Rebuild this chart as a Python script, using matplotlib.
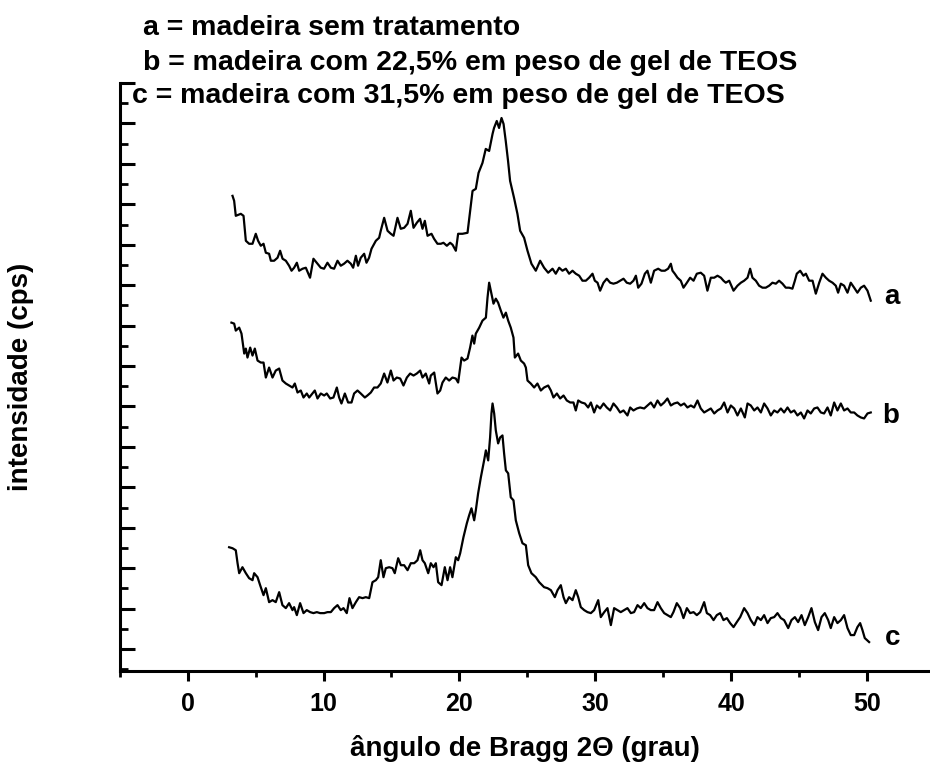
import matplotlib
matplotlib.use('Agg')
from matplotlib import pyplot as plt
from matplotlib.ticker import MultipleLocator

# difratogramas de raios X (2theta em graus, intensidade em cps, escala arbitraria)
ang_a = [3.31, 3.43, 3.55, 3.92, 4.12, 4.29, 4.53, 4.78, 5.02, 5.19,
         5.39, 5.59, 5.76, 6.00, 6.13, 6.37, 6.62, 6.81, 6.99, 7.23,
         7.47, 7.65, 7.84, 8.04, 8.21, 8.46, 8.70, 9.01, 9.26, 9.56,
         9.80, 10.04, 10.29, 10.54, 10.78, 11.03, 11.27, 11.51, 11.76, 12.01,
         12.18, 12.38, 12.54, 12.74, 12.99, 13.16, 13.35, 13.53, 13.85, 14.09,
         14.21, 14.46, 14.71, 14.95, 15.15, 15.44, 15.68, 15.93, 16.18, 16.42,
         16.62, 16.86, 17.10, 17.28, 17.45, 17.65, 17.94, 18.13, 18.38, 18.63,
         18.82, 19.07, 19.31, 19.49, 19.73, 19.90, 20.22, 20.59, 20.78, 20.96,
         21.20, 21.40, 21.69, 21.93, 22.18, 22.43, 22.54, 22.74, 22.91, 23.09,
         23.24, 23.40, 23.57, 23.72, 24.01, 24.26, 24.46, 24.75, 25.00, 25.29,
         25.61, 25.93,
         26.22, 26.52, 26.84, 27.08, 27.33, 27.57, 27.82, 28.06, 28.31, 28.55,
         28.80, 29.04, 29.29, 29.53, 29.78, 29.95, 30.15, 30.34, 30.59, 30.83,
         31.08, 31.32, 31.57, 31.81, 32.06, 32.30, 32.55, 32.79, 32.97, 33.14,
         33.38, 33.63, 33.82, 34.07, 34.31, 34.61, 34.85, 35.10, 35.34, 35.54,
         35.66, 35.83, 36.03, 36.27, 36.47, 36.72, 36.96, 37.21, 37.45, 37.74,
         37.99, 38.23, 38.48, 38.73, 38.97, 39.22, 39.41, 39.58, 39.83, 40.15,
         40.44, 40.69, 40.93, 41.18, 41.37, 41.54, 41.79, 42.03, 42.28, 42.52,
         42.77, 43.01, 43.26, 43.50, 43.75, 43.99, 44.24, 44.48, 44.66, 44.80,
         45.05, 45.29, 45.47, 45.71, 45.96, 46.20, 46.45, 46.69, 46.94, 47.18,
         47.43, 47.67, 47.84, 48.04, 48.28, 48.53, 48.77, 49.02, 49.26, 49.51,
         49.75, 50.00, 50.24]
cps_a = [454, 449, 434, 436, 434, 409, 406, 406, 416, 409,
         404, 406, 397, 396, 389, 389, 392, 399, 391, 389,
         384, 379, 382, 387, 379, 381, 382, 372, 391, 386,
         382, 381, 387, 382, 381, 389, 384, 386, 389, 386,
         382, 394, 384, 392, 396, 387, 392, 401, 409, 412,
         419, 432, 419, 416, 414, 432, 421, 422, 426, 439,
         422, 427, 431, 421, 429, 414, 416, 411, 406, 406,
         407, 404, 407, 405, 399, 416, 416, 417, 439, 459,
         461, 477, 487, 501, 499, 516, 522, 529, 522, 532,
         526, 509, 489, 469, 452, 436, 419, 412, 399, 386,
         379, 389,
         382, 377, 381, 376, 382, 379, 381, 376, 379, 376,
         374, 369, 369, 372, 376, 369, 367, 359, 367, 371,
         367, 366, 367, 369, 371, 367, 366, 369, 374, 362,
         366, 376, 379, 367, 379, 381, 379, 379, 381, 386,
         379, 376, 372, 369, 362, 367, 372, 369, 376, 377,
         374, 359, 372, 372, 374, 372, 369, 367, 369, 359,
         364, 367, 369, 372, 381, 372, 369, 364, 362, 362,
         364, 367, 366, 369, 366, 362, 362, 361, 369, 376,
         379, 374, 376, 369, 369, 356, 367, 376, 372, 369,
         367, 364, 357, 366, 364, 357, 367, 362, 357, 362,
         364, 359, 349]

ang_b = [3.23, 3.43, 3.55, 3.80, 3.97, 4.17, 4.29, 4.41, 4.61, 4.78,
         4.95, 5.15, 5.39, 5.59, 5.76, 6.00, 6.25, 6.49, 6.74, 6.98,
         7.23, 7.47, 7.72, 7.89, 8.09, 8.33, 8.53, 8.77, 8.95, 9.19,
         9.36, 9.56, 9.80, 10.05, 10.24, 10.49, 10.73, 10.98, 11.15, 11.32,
         11.57, 11.81, 12.06, 12.25, 12.50, 12.74, 13.04, 13.23, 13.48, 13.72,
         13.97, 14.21, 14.46, 14.70, 14.95, 15.15, 15.39, 15.64, 15.88, 16.13,
         16.37, 16.62, 16.86, 17.11, 17.28, 17.52, 17.77, 17.89, 18.14, 18.38,
         18.58, 18.75, 18.99, 19.24, 19.48, 19.73, 19.90, 20.05, 20.15, 20.34,
         20.59, 20.78, 20.95, 21.08, 21.20, 21.45, 21.69, 21.94, 22.06, 22.18,
         22.30, 22.50, 22.67, 22.84, 23.04, 23.23, 23.41, 23.58, 23.77, 23.97,
         24.07, 24.31, 24.51, 24.75, 24.88, 25.00, 25.24, 25.49, 25.73, 25.98,
         26.22, 26.52, 26.72, 26.91, 27.16, 27.40, 27.65, 27.89, 28.14, 28.38,
         28.55, 28.73, 28.97, 29.22, 29.46, 29.66, 29.90, 30.10, 30.34, 30.59,
         30.83, 31.08, 31.32, 31.57, 31.81, 32.06, 32.35, 32.55, 32.79, 33.04,
         33.28, 33.58, 33.82, 34.07, 34.31, 34.56, 34.80, 35.05, 35.29, 35.54,
         35.78, 36.03, 36.27, 36.52, 36.76, 37.01, 37.25, 37.50, 37.74, 37.99,
         38.23, 38.48, 38.73, 38.97, 39.22, 39.46, 39.71, 39.95, 40.20, 40.44,
         40.69, 40.98, 41.18, 41.42, 41.67, 41.91, 42.16, 42.40, 42.65, 42.89,
         43.14, 43.38, 43.63, 43.87, 44.12, 44.36, 44.61, 44.85, 45.10, 45.34,
         45.59, 45.83, 46.08, 46.32, 46.57, 46.81, 47.06, 47.30, 47.55, 47.79,
         48.04, 48.28, 48.53, 48.77, 49.02, 49.26, 49.51, 49.75, 50.00, 50.24]
cps_b = [327, 326, 319, 322, 316, 296, 301, 292, 302, 294,
         301, 289, 287, 287, 272, 282, 272, 279, 281, 269,
         266, 264, 262, 266, 257, 259, 252, 256, 252, 256,
         259, 251, 256, 254, 256, 251, 252, 262, 252, 246,
         256, 247, 247, 256, 259, 256, 252, 254, 257, 262,
         262, 266, 276, 267, 279, 269, 272, 271, 264, 272,
         276, 274, 276, 279, 272, 276, 266, 274, 277, 256,
         259, 267, 272, 269, 272, 271, 267, 282, 292, 289,
         291, 302, 314, 306, 316, 322, 329, 332, 352, 367,
         359, 346, 351, 347, 339, 332, 337, 329, 322, 312,
         292, 296, 289, 286, 282, 269, 266, 262, 266, 259,
         262, 264, 259, 252, 256, 251, 254, 249, 247, 247,
         239, 249, 247, 246, 242, 247, 237, 244, 241, 246,
         242, 239, 246, 242, 237, 239, 234, 242, 239, 241,
         242, 241, 244, 247, 242, 249, 244, 247, 251, 244,
         246, 247, 244, 246, 242, 244, 242, 249, 241, 237,
         239, 241, 236, 239, 241, 247, 237, 244, 241, 234,
         241, 232, 246, 244, 239, 242, 237, 246, 241, 234,
         239, 237, 241, 237, 242, 237, 239, 234, 237, 231,
         239, 236, 241, 242, 237, 236, 242, 234, 247, 239,
         246, 239, 241, 237, 237, 234, 232, 231, 236, 237]

ang_c = [3.06, 3.31, 3.55, 3.68, 3.80, 4.04, 4.29, 4.53, 4.78, 4.90,
         5.15, 5.34, 5.59, 5.76, 6.00, 6.25, 6.49, 6.74, 6.98, 7.23,
         7.47, 7.72, 7.84, 8.04, 8.28, 8.53, 8.77, 9.02, 9.26, 9.51,
         9.75, 10.05, 10.29, 10.54, 10.78, 11.03, 11.27, 11.47, 11.71, 11.91,
         12.13, 12.38, 12.62, 12.87, 13.11, 13.36, 13.60, 13.85, 14.02, 14.21,
         14.41, 14.58, 14.83, 15.07, 15.24, 15.49, 15.69, 15.93, 16.18, 16.42,
         16.67, 16.91, 17.11, 17.28, 17.45, 17.70, 17.89, 18.09, 18.26, 18.43,
         18.68, 18.92, 19.12, 19.31, 19.48, 19.73, 19.90, 20.05, 20.29, 20.54,
         20.71, 20.88, 21.08, 21.20, 21.37, 21.57, 21.81, 21.94, 22.11, 22.25,
         22.35, 22.43, 22.55, 22.67, 22.84, 22.99, 23.16, 23.28, 23.41, 23.58,
         23.77, 23.97, 24.14, 24.39, 24.63, 24.88, 25.05, 25.29, 25.61, 25.86,
         26.22, 26.47, 26.72, 27.01, 27.21, 27.45, 27.65, 27.82, 28.06, 28.31,
         28.55, 28.73, 28.92, 29.17, 29.41, 29.66, 29.90, 30.20, 30.39, 30.64,
         30.88, 31.13, 31.37, 31.62, 31.86, 32.11, 32.35, 32.60, 32.84, 33.09,
         33.33, 33.58, 33.82, 34.07, 34.31, 34.56, 34.80, 35.05, 35.29, 35.54,
         35.73, 35.98, 36.23, 36.47, 36.72, 36.96, 37.21, 37.45, 37.70, 37.99,
         38.19, 38.43, 38.68, 38.92, 39.17, 39.41, 39.66, 39.90, 40.15, 40.39,
         40.64, 40.93, 41.18, 41.42, 41.67, 41.91, 42.16, 42.40, 42.65, 42.89,
         43.14, 43.38, 43.63, 43.87, 44.17, 44.41, 44.66, 44.90, 45.15, 45.39,
         45.64, 45.88, 46.13, 46.37, 46.62, 46.86, 47.11, 47.30, 47.55, 47.79,
         48.04, 48.28, 48.53, 48.77, 49.02, 49.26, 49.46, 49.63, 49.80, 50.12]
cps_c = [102, 101, 99, 86, 76, 82, 76, 71, 69, 76,
         72, 64, 54, 61, 47, 49, 47, 57, 44, 41,
         46, 39, 42, 34, 46, 36, 39, 37, 36, 37,
         36, 36, 37, 37, 41, 44, 39, 41, 36, 51,
         41, 47, 52, 51, 52, 51, 67, 69, 72, 89,
         72, 81, 82, 81, 76, 91, 84, 84, 79, 86,
         86, 89, 99, 89, 86, 76, 86, 82, 86, 67,
         64, 82, 69, 82, 72, 92, 89, 96, 112, 126,
         134, 141, 129, 139, 156, 172, 189, 199, 189, 212,
         236, 246, 236, 219, 206, 212, 214, 196, 179, 176,
         152, 149, 129, 116, 106, 104, 84, 76, 72, 67,
         62, 61, 59, 52, 59, 64, 52, 46, 52, 49,
         59, 52, 42, 39, 37, 36, 39, 49, 32, 37,
         41, 24, 41, 39, 37, 39, 41, 36, 37, 44,
         41, 46, 41, 39, 39, 47, 41, 36, 34, 32,
         37, 46, 41, 31, 41, 36, 37, 34, 37, 47,
         36, 34, 29, 34, 36, 29, 31, 26, 22, 27,
         32, 41, 36, 29, 24, 32, 29, 34, 26, 31,
         32, 36, 31, 29, 21, 29, 32, 27, 34, 24,
         32, 41, 27, 19, 32, 36, 29, 21, 32, 26,
         29, 34, 21, 14, 14, 22, 26, 19, 11, 7]

amostras = ['a', 'b', 'c']
legenda = ['a = madeira sem tratamento',
           'b = madeira com 22,5% em peso de gel de TEOS',
           'c = madeira com 31,5% em peso de gel de TEOS']

plt.rcParams['font.family'] = ['Liberation Sans', 'DejaVu Sans']
plt.rcParams['font.weight'] = 'bold'

fig = plt.figure(figsize=(9.3, 7.64), dpi=100)
ax = fig.add_axes([0.1285, 0.1217, 0.8774, 0.7696])

for ang, cps in ((ang_a, cps_a), (ang_b, cps_b), (ang_c, cps_c)):
    ax.plot(ang, cps, color='k', linewidth=1.6)

ax.set_xlim(-5, 55)
ax.set_ylim(-22, 567)
ax.xaxis.set_major_locator(MultipleLocator(10))
ax.xaxis.set_minor_locator(MultipleLocator(5))
ax.yaxis.set_major_locator(MultipleLocator(40.5))
ax.yaxis.set_minor_locator(MultipleLocator(20.25))

ax.spines['top'].set_visible(False)
ax.spines['right'].set_visible(False)
ax.spines['left'].set_linewidth(2.2)
ax.spines['bottom'].set_linewidth(2.2)

ax.tick_params(axis='x', which='major', direction='out', length=7, width=2.2,
               pad=8, labelsize=18)
ax.tick_params(axis='x', which='minor', direction='out', length=4.5, width=2)
ax.tick_params(axis='y', which='major', direction='in', length=11, width=2.2,
               labelleft=False)
ax.tick_params(axis='y', which='minor', direction='in', length=6, width=2)

# rotulos das curvas no lado direito
ax.text(51.2, 346, amostras[0], fontsize=20, ha='left', va='baseline')
ax.text(51.1, 226, amostras[1], fontsize=20, ha='left', va='baseline')
ax.text(51.3, 4, amostras[2], fontsize=20, ha='left', va='baseline')

fig.text(143 / 930, 1 - 35 / 764, legenda[0], fontsize=20.5, va='baseline')
fig.text(143 / 930, 1 - 70 / 764, legenda[1], fontsize=20.5, va='baseline')
fig.text(132 / 930, 1 - 103 / 764, legenda[2], fontsize=20.5, va='baseline')

fig.text(525 / 930, 1 - 749 / 764, 'ângulo de Bragg 2Θ (grau)', fontsize=20,
         ha='center', va='center')
fig.text(21 / 930, 1 - 377 / 764, 'intensidade (cps)', fontsize=20,
         rotation=90, ha='center', va='center')

fig.savefig('out.png', dpi=100)
